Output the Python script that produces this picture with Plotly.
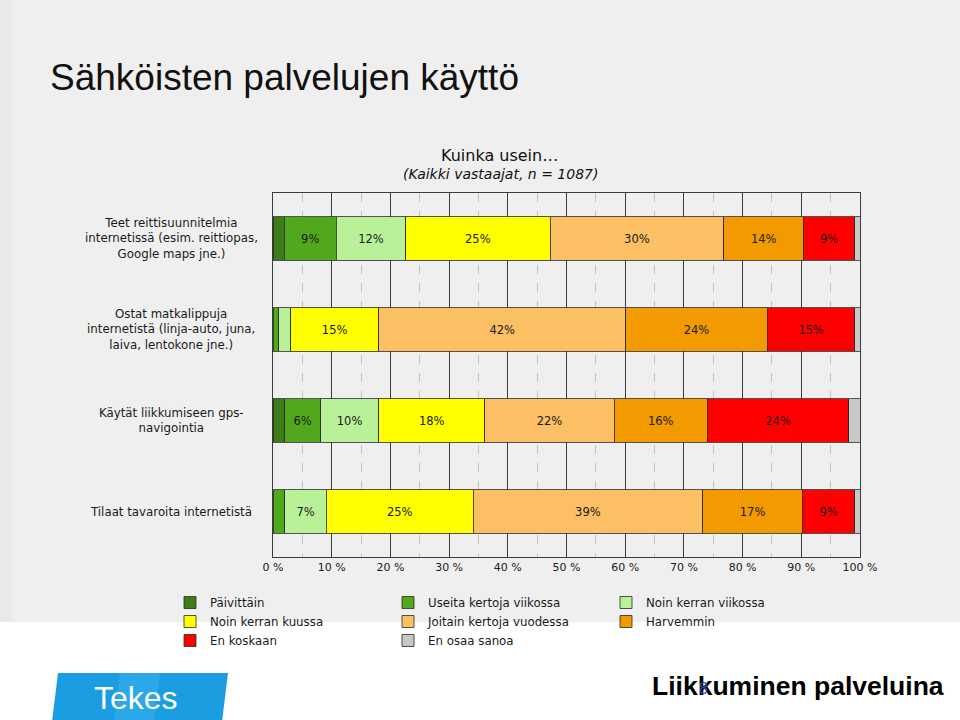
import plotly.graph_objects as go

# ---------------- data ----------------
questions = [
    "Teet reittisuunnitelmia<br>internetissä (esim. reittiopas,<br>Google maps jne.)",
    "Ostat matkalippuja<br>internetistä (linja-auto, juna,<br>laiva, lentokone jne.)",
    "Käytät liikkumiseen gps-<br>navigointia",
    "Tilaat tavaroita internetistä",
]
series_names = [
    "Päivittäin", "Useita kertoja viikossa", "Noin kerran viikossa",
    "Noin kerran kuussa", "Joitain kertoja vuodessa", "Harvemmin",
    "En koskaan", "En osaa sanoa",
]
paivittain = [1.9, 0.0, 2.0, 0.0]
useita_viikossa = [8.9, 1.0, 6.1, 2.0]
kerran_viikossa = [11.8, 2.0, 9.9, 7.1]
kerran_kuussa = [24.6, 15.0, 18.1, 25.0]
joitain_vuodessa = [29.6, 42.1, 22.0, 39.1]
harvemmin = [13.6, 24.1, 15.9, 17.0]
en_koskaan = [8.7, 14.9, 24.1, 8.9]
en_osaa = [0.9, 0.9, 1.9, 0.9]
series_values = [paivittain, useita_viikossa, kerran_viikossa, kerran_kuussa,
                 joitain_vuodessa, harvemmin, en_koskaan, en_osaa]
series_colors = ["#3d7d18", "#52a81c", "#b9f198", "#ffff00",
                 "#fcbf63", "#f29a00", "#ff0000", "#c8c8c8"]
x_ticks = [0, 10, 20, 30, 40, 50, 60, 70, 80, 90, 100]

# ---------------- layout geometry ----------------
W, H = 960, 720
L, R, T, B = 273, 860, 193, 557


def px2x(px):
    return (px - L) / (R - L)


def px2y(py):
    return (B - py) / (B - T)


FONT = "DejaVu Sans"

fig = go.Figure()
for name, vals, col in zip(series_names, series_values, series_colors):
    fig.add_trace(go.Bar(
        name=name,
        y=questions,
        x=vals,
        orientation="h",
        marker=dict(color=col, line=dict(color="#2a2a2a", width=0.8)),
        text=[f"{round(v)}%" if v >= 5 else "" for v in vals],
        textposition="inside",
        insidetextanchor="middle",
        textangle=0,
        insidetextfont=dict(family=FONT, size=11.5, color="#1a1a1a"),
        width=0.48,
        hoverinfo="skip",
    ))

shapes = [
    # slide background (grey upper part)
    dict(type="rect", xref="paper", yref="paper",
         x0=px2x(0), x1=px2x(W), y0=px2y(622), y1=px2y(0),
         fillcolor="#efefef", line=dict(width=0), layer="below"),
    dict(type="rect", xref="paper", yref="paper",
         x0=px2x(0), x1=px2x(12), y0=px2y(622), y1=px2y(0),
         fillcolor="#e9e9e9", line=dict(width=0), layer="below"),
    # Tekes logo
    dict(type="path", xref="paper", yref="paper",
         path=(f"M {px2x(58)},{px2y(673)} L {px2x(228)},{px2y(673)} "
               f"L {px2x(222)},{px2y(722)} L {px2x(52)},{px2y(722)} Z"),
         fillcolor="#1b9de2", line=dict(width=0), layer="above"),
    dict(type="path", xref="paper", yref="paper",
         path=(f"M {px2x(120)},{px2y(673)} L {px2x(160)},{px2y(673)} "
               f"L {px2x(154)},{px2y(722)} L {px2x(114)},{px2y(722)} Z"),
         fillcolor="#2aa8ea", line=dict(width=0), layer="above"),
]

annotations = [
    dict(text="Sähköisten palvelujen käyttö", x=px2x(48), y=px2y(77),
         xanchor="left", yanchor="middle",
         font=dict(family="Liberation Sans", size=37, color="#111111")),
    dict(text="Kuinka usein…", x=px2x(499), y=px2y(156),
         xanchor="center", yanchor="middle",
         font=dict(family=FONT, size=16, color="#111111")),
    dict(text="<i>(Kaikki vastaajat, n = 1087)</i>", x=px2x(500), y=px2y(174),
         xanchor="center", yanchor="middle",
         font=dict(family=FONT, size=14, color="#111111")),
    dict(text="Liikkuminen palveluina", x=px2x(946), y=px2y(686),
         xanchor="right", yanchor="middle",
         font=dict(family="Liberation Sans Narrow, Liberation Sans", size=26.5,
                   color="#000000", weight="bold")),
    dict(text="8", x=px2x(703), y=px2y(688),
         xanchor="center", yanchor="middle",
         font=dict(family="Liberation Sans", size=16, color="#2a4fa0")),
    dict(text="Tekes", x=px2x(136), y=px2y(698),
         xanchor="center", yanchor="middle",
         font=dict(family="Liberation Sans", size=32, color="#ffffff")),
]
for q in questions:
    annotations.append(dict(
        text=q, x=px2x(171), y=q, xref="paper", yref="y",
        xanchor="center", yanchor="middle", align="center", showarrow=False,
        font=dict(family=FONT, size=11.8, color="#1a1a1a")))
for a in annotations:
    a.setdefault("xref", "paper")
    a.setdefault("yref", "paper")
    a.setdefault("showarrow", False)

fig.update_layout(
    width=W, height=H,
    margin=dict(l=L, r=W - R, t=T, b=H - B, pad=0),
    barmode="stack",
    paper_bgcolor="#ffffff",
    plot_bgcolor="rgba(0,0,0,0)",
    font=dict(family=FONT, size=11.5, color="#1a1a1a"),
    shapes=shapes,
    annotations=annotations,
    showlegend=True,
    legend=dict(
        orientation="h", x=px2x(170), y=px2y(588),
        xanchor="left", yanchor="top",
        entrywidth=173, entrywidthmode="pixels",
        traceorder="normal",
        font=dict(family=FONT, size=11.8, color="#1a1a1a"),
        bgcolor="rgba(0,0,0,0)",
    ),
    xaxis=dict(
        range=[0, 100], tickvals=x_ticks, ticktext=[f"{t} %" for t in x_ticks],
        showgrid=True, gridcolor="#3c3c3c", gridwidth=1,
        showline=True, linecolor="#3c3c3c", linewidth=1, mirror=True,
        ticks="", zeroline=False, fixedrange=True,
        tickfont=dict(family=FONT, size=11, color="#1a1a1a"),
        minor=dict(dtick=5, tick0=0, showgrid=True, gridcolor="#c4c4c4",
                   griddash="dash", gridwidth=1),
    ),
    yaxis=dict(
        categoryorder="array", categoryarray=questions,
        range=[3.5, -0.5], showticklabels=False, showgrid=False,
        showline=True, linecolor="#3c3c3c", linewidth=1, mirror=True,
        ticks="", zeroline=False, fixedrange=True,
    ),
)

fig.write_html("out.html", config={"displayModeBar": False},
               post_script="document.body.style.margin='0px';")
